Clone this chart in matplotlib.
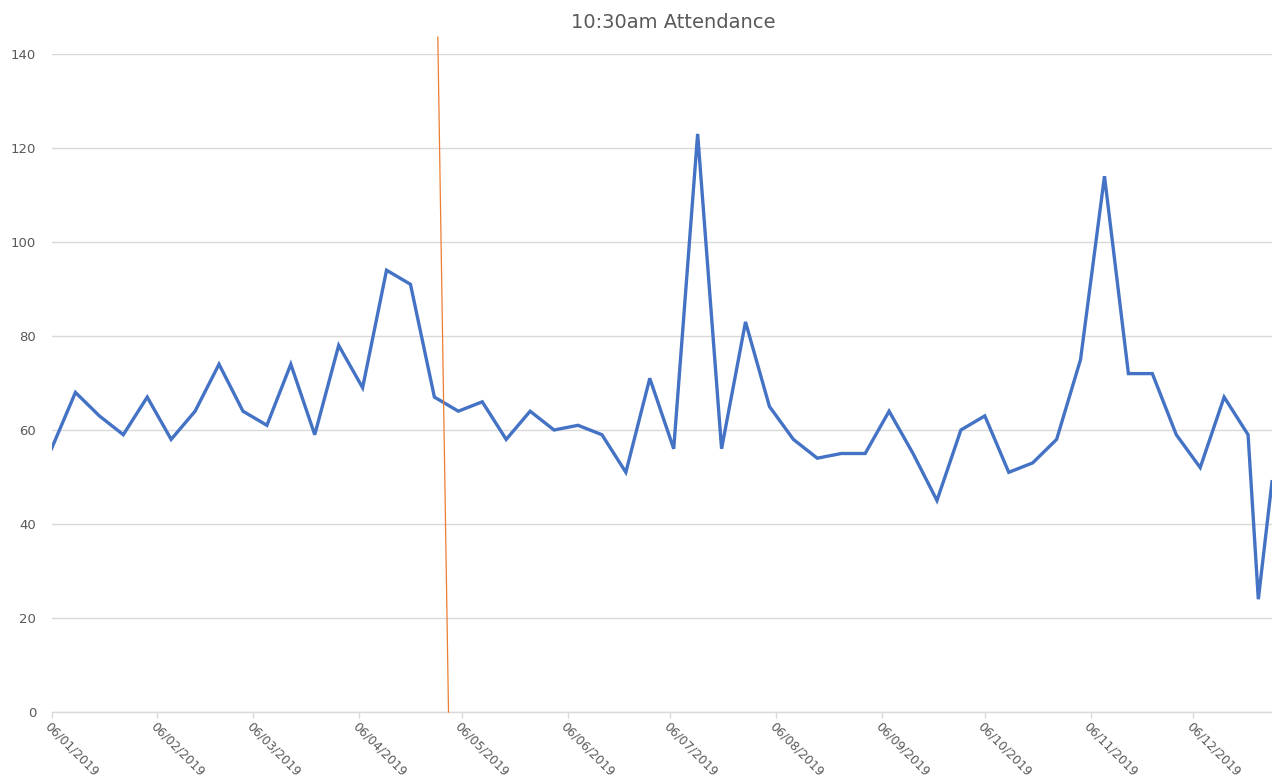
import matplotlib
matplotlib.use("Agg")
import matplotlib.pyplot as plt
import matplotlib.dates as mdates
import pandas as pd

# ---- data ----
dates = ["2019-01-06", "2019-01-13", "2019-01-20", "2019-01-27", "2019-02-03",
         "2019-02-10", "2019-02-17", "2019-02-24", "2019-03-03", "2019-03-10",
         "2019-03-17", "2019-03-24", "2019-03-31", "2019-04-07", "2019-04-14",
         "2019-04-21", "2019-04-28", "2019-05-05", "2019-05-12", "2019-05-19",
         "2019-05-26", "2019-06-02", "2019-06-09", "2019-06-16", "2019-06-23",
         "2019-06-30", "2019-07-07", "2019-07-14", "2019-07-21", "2019-07-28",
         "2019-08-04", "2019-08-11", "2019-08-18", "2019-08-25", "2019-09-01",
         "2019-09-08", "2019-09-15", "2019-09-22", "2019-09-29", "2019-10-06",
         "2019-10-13", "2019-10-20", "2019-10-27", "2019-11-03", "2019-11-10",
         "2019-11-17", "2019-11-24", "2019-12-01", "2019-12-08", "2019-12-15",
         "2019-12-22", "2019-12-25", "2019-12-29"]
attendance = [56, 68, 63, 59, 67,
              58, 64, 74, 64, 61,
              74, 59, 78, 69, 94,
              91, 67, 64, 66, 58,
              64, 60, 61, 59, 51,
              71, 56, 123, 56, 83,
              65, 58, 54, 55, 55,
              64, 55, 45, 60, 63,
              51, 53, 58, 75, 114,
              72, 72, 59, 52, 67,
              59, 24, 49]

marker_dates = ["2019-04-29 00:00", "2019-05-02 03:00"]
marker_values = [143.6, 0]

tick_dates = ["2019-01-06", "2019-02-06", "2019-03-06", "2019-04-06",
              "2019-05-06", "2019-06-06", "2019-07-06", "2019-08-06",
              "2019-09-06", "2019-10-06", "2019-11-06", "2019-12-06"]
y_ticks = [0, 20, 40, 60, 80, 100, 120, 140]
title = "10:30am Attendance"

# ---- plot ----
x = pd.to_datetime(dates)
xm = pd.to_datetime(marker_dates)
xt = pd.to_datetime(tick_dates)

W, H = 1272, 780
fig = plt.figure(figsize=(W / 100, H / 100), dpi=100)
left, right = 51.5, 1272
top, bottom = 54, 712
ax = fig.add_axes([left / W, 1 - bottom / H, (right - left) / W, (bottom - top) / H])

grey = "#595959"
gridc = "#d9d9d9"

ax.plot(x, attendance, color="#4472C4", linewidth=2.4, solid_joinstyle="miter", zorder=3)
ax.plot(xm, marker_values, color="#ED7D31", linewidth=0.9, clip_on=False, zorder=4)

ax.set_xlim(x[0], x[-1])
ax.set_ylim(0, 140)
ax.set_yticks(y_ticks)
ax.set_xticks(xt)
ax.xaxis.set_major_formatter(mdates.DateFormatter("%d/%m/%Y"))

for s in ["top", "right", "left"]:
    ax.spines[s].set_visible(False)
ax.spines["bottom"].set_color(gridc)
ax.spines["bottom"].set_linewidth(1.0)

ax.grid(axis="y", color=gridc, linewidth=1.0)
ax.set_axisbelow(True)

ax.tick_params(axis="y", length=0, pad=11, labelsize=9.5, labelcolor=grey)
ax.tick_params(axis="x", length=4, width=1.0, color=gridc, pad=2,
               labelsize=8.8, labelcolor=grey)
for lab in ax.get_xticklabels():
    lab.set_rotation(-45)
    lab.set_ha("left")
    lab.set_va("top")
    lab.set_rotation_mode("anchor")

fig.text(673 / W, 1 - 23 / H, title, ha="center", va="center",
         fontsize=14, color=grey)

fig.savefig("out.png", dpi=100, facecolor="white")
